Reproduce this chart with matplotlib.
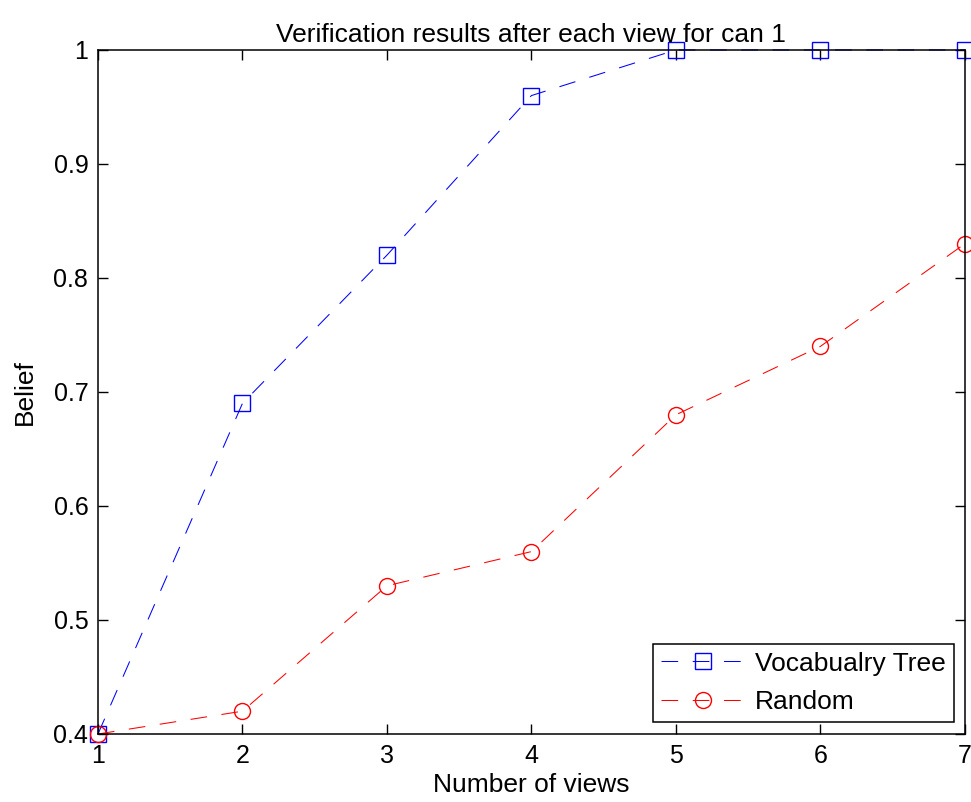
import matplotlib
matplotlib.use('Agg')
import matplotlib.pyplot as plt
from matplotlib.lines import Line2D

plt.rcParams['font.family'] = ['Liberation Sans', 'DejaVu Sans']

views = [1, 2, 3, 4, 5, 6, 7]
vocab_tree = [0.40, 0.69, 0.82, 0.96, 1.00, 1.00, 1.00]
random_views = [0.40, 0.42, 0.53, 0.56, 0.68, 0.74, 0.83]

fig = plt.figure(figsize=(9.71, 8.02), dpi=100)
ax = fig.add_axes([0.1009, 0.0848, 0.8928, 0.8529])

dash = (0, (16, 14))
lw = 0.75
fs = 18

ax.plot(views, vocab_tree, color='blue', lw=lw, linestyle=dash, marker='s',
        ms=11.5, mfc='none', mew=1.0, clip_on=False)
ax.plot(views, random_views, color='red', lw=lw, linestyle=dash, marker='o',
        ms=11.5, mfc='none', mew=1.0, clip_on=False)

ax.set_xlim(1, 7)
ax.set_ylim(0.4, 1.0)
ax.set_xticks(views)
ax.set_xticklabels([str(v) for v in views])
ax.set_yticks([0.4, 0.5, 0.6, 0.7, 0.8, 0.9, 1.0])
ax.set_yticklabels(['0.4', '0.5', '0.6', '0.7', '0.8', '0.9', '1'])
ax.tick_params(direction='in', length=7, width=1, labelsize=fs,
               top=True, right=True, pad=7)
for s in ax.spines.values():
    s.set_linewidth(1.1)

ax.set_title('Verification results after each view for can 1', fontsize=19, pad=6)
ax.set_xlabel('Number of views', fontsize=19, labelpad=4)
ax.set_ylabel('Belief', fontsize=19, labelpad=12)

handles = [
    Line2D([], [], color='blue', lw=lw, linestyle=dash, marker='s', ms=11.5,
           mfc='none', mew=1.0),
    Line2D([], [], color='red', lw=lw, linestyle=dash, marker='o', ms=11.5,
           mfc='none', mew=1.0),
]
leg = ax.legend(handles, ['Vocabualry Tree', 'Random'], loc='lower right',
                fontsize=19, fancybox=False, edgecolor='black', framealpha=1,
                handlelength=3.2, handletextpad=0.38, borderpad=0.3,
                borderaxespad=0, labelspacing=0.55,
                bbox_to_anchor=(0.9873, 0.0175))
leg.get_frame().set_linewidth(1.1)

fig.savefig('out.png', dpi=100)
